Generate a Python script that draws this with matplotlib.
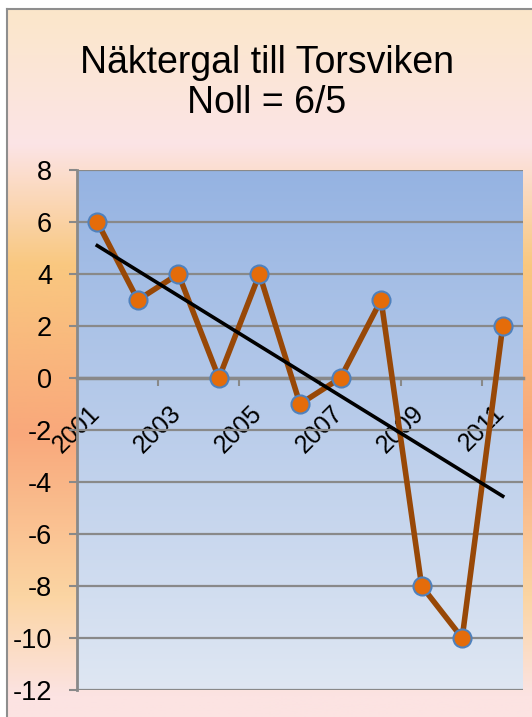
import numpy as np
import matplotlib.pyplot as plt
import matplotlib.transforms as mtransforms
from matplotlib.colors import LinearSegmentedColormap
from matplotlib.lines import Line2D

plt.rcParams['font.family'] = ['Liberation Sans', 'DejaVu Sans']
plt.rcParams['axes.unicode_minus'] = False

years = ['2001', '2002', '2003', '2004', '2005', '2006',
         '2007', '2008', '2009', '2010', '2011']
values = [6, 3, 4, 0, 4, -1, 0, 3, -8, -10, 2]
yticks = list(range(-12, 9, 2))

W, H = 532, 717
fig = plt.figure(figsize=(W / 100, H / 100), dpi=100)

# background of the whole chart (vertical gradient)
bg = fig.add_axes([7 / W, 0, 1 - 7 / W, 1 - 9 / H], zorder=-10)
bg_cmap = LinearSegmentedColormap.from_list('bg', [
    (0.0, '#FBE7CA'), (0.19, '#FCE4E6'), (0.36, '#F9C880'),
    (0.60, '#F9A87B'), (0.83, '#FBD5A3'), (0.97, '#FCE3E2'), (1.0, '#FCE3E2')])
bg.imshow(np.linspace(0, 1, 256).reshape(-1, 1), cmap=bg_cmap, aspect='auto')
bg.axis('off')

# grey frame (left and top)
fig.add_artist(Line2D([6.5 / W, 6.5 / W], [0, 1 - 8.5 / H], transform=fig.transFigure,
                      color='#8E8E8E', lw=1.5))
fig.add_artist(Line2D([6.5 / W, 1], [1 - 8.5 / H, 1 - 8.5 / H], transform=fig.transFigure,
                      color='#8E8E8E', lw=1.5))

# title
fig.text(0.502, 1 - 73 / H, 'Näktergal till Torsviken', ha='center', va='baseline', fontsize=27)
fig.text(0.502, 1 - 113 / H, 'Noll = 6/5', ha='center', va='baseline', fontsize=27)

ax = fig.add_axes([77 / W, 27 / H, 446 / W, 520 / H])
ax.set_facecolor('none')
x = np.arange(len(years))
ax.set_xlim(-0.5, len(years) - 0.5)
ax.set_ylim(-12, 8)

# plot area gradient
pa_cmap = LinearSegmentedColormap.from_list('pa', ['#95B3E2', '#DFE7F3'])
ax.imshow(np.linspace(0, 1, 256).reshape(-1, 1), cmap=pa_cmap, aspect='auto',
          extent=[-0.5, len(years) - 0.5, -12, 8], zorder=0)

grey = '#898989'
ax.yaxis.grid(True, color=grey, lw=1.6, zorder=1)
ax.set_yticks(yticks)
ax.tick_params(axis='y', length=6, width=1.5, color=grey, pad=12, labelsize=19.5)

for s in ['top', 'right']:
    ax.spines[s].set_visible(False)
ax.spines['left'].set_color(grey)
ax.spines['left'].set_linewidth(2)
ax.spines['bottom'].set_position(('data', 0))
ax.spines['bottom'].set_color(grey)
ax.spines['bottom'].set_linewidth(2.5)

ax.set_xticks(x[::2])
ax.set_xticklabels(years[::2], rotation=45, ha='right', va='top')
ax.tick_params(axis='x', which='major', length=0, pad=16.5, labelsize=18)
shift = mtransforms.ScaledTranslation(7 / 100, 0, fig.dpi_scale_trans)
for lab in ax.get_xticklabels():
    lab.set_transform(lab.get_transform() + shift)
ax.set_xticks(x[1:-1:2] + 0.5, minor=True)
ax.tick_params(axis='x', which='minor', length=6, width=1.5, color=grey, direction='out')

ax.plot(x, values, color='#984807', lw=4, marker='o', markersize=13,
        markerfacecolor='#E46C0A', markeredgecolor='#4F81BD', markeredgewidth=1.5, zorder=3)

# linear trend line
k, m = np.polyfit(x, values, 1)
ax.plot(x, k * x + m, color='black', lw=2.6, zorder=4)

fig.savefig('out.png', dpi=100)
